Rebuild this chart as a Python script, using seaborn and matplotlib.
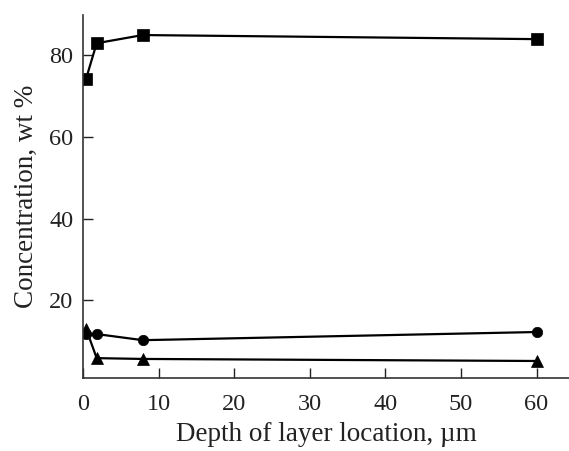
import pandas as pd
import seaborn as sns
import matplotlib.pyplot as plt

depth = [0.4, 1.8, 7.9, 60]
squares = [74.3, 83.0, 85.0, 84.0]
circles = [11.7, 11.7, 10.2, 12.2]
triangles = [13.0, 5.8, 5.6, 5.1]

sns.set_style('ticks')
plt.rcParams['font.family'] = ['Liberation Serif', 'DejaVu Serif']

fig = plt.figure(figsize=(5.69, 4.51), dpi=100)
ax = fig.add_axes([0.146, 0.1625, 0.854, 0.805])

for vals, mk, ms in [(squares, 's', 8.5), (circles, 'o', 7.5), (triangles, '^', 8.5)]:
    df = pd.DataFrame({'depth': depth, 'conc': vals})
    sns.lineplot(data=df, x='depth', y='conc', ax=ax, color='black', lw=1.6,
                 marker=mk, markersize=ms, markeredgecolor='black', markeredgewidth=0.5)

ax.set_xlim(0, 64.3)
ax.set_ylim(1, 90)
ax.set_xticks([0, 10, 20, 30, 40, 50, 60])
ax.set_yticks([20, 40, 60, 80])
ax.tick_params(direction='in', length=7, width=1, labelsize=17.5, colors='#222222')
ax.tick_params(axis='x', pad=12)
ax.tick_params(axis='y', pad=7)
ax.set_xlabel('Depth of layer location, µm', fontsize=19.5, labelpad=5, color='#222222')
ax.set_ylabel('Concentration, wt %', fontsize=19.5, labelpad=7, color='#222222')
for s in ['top', 'right']:
    ax.spines[s].set_visible(False)
for s in ['left', 'bottom']:
    ax.spines[s].set_linewidth(1.2)
    ax.spines[s].set_color('#333333')

fig.savefig('out.png', dpi=100)
